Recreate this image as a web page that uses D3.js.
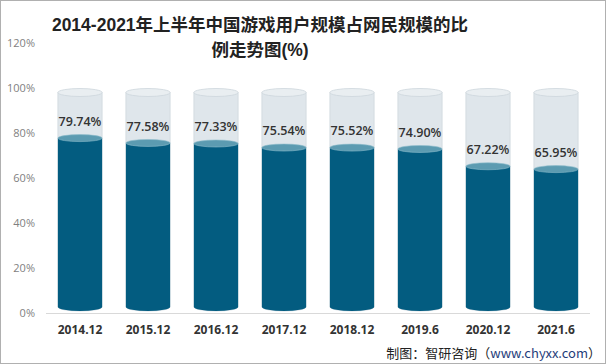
<!DOCTYPE html>
<html><head><meta charset="utf-8">
<script src="https://cdn.jsdelivr.net/npm/d3@7"></script>
<style>body{margin:0;background:#fff}svg{display:block}</style>
</head><body>
<script>
const categories = ["2014.12","2015.12","2016.12","2017.12","2018.12","2019.6","2020.12","2021.6"];
const values = [79.74,77.58,77.33,75.54,75.52,74.90,67.22,65.95];
const yTicks = [0,20,40,60,80,100,120];
const titleLines = ["2014-2021年上半年中国游戏用户规模占网民规模的比","例走势图(%)"];
const sourcePrefix = "制图：智研咨询（";
const sourceUrl = "www.chyxx.com";
const sourceSuffix = "）";

const W=606,H=364;
const svg=d3.select("body").append("svg").attr("width",W).attr("height",H);
svg.append("rect").attr("x",0.5).attr("y",0.5).attr("width",W-1).attr("height",H-1).attr("fill","#fff").attr("stroke","#b0b0b0");

const x=d3.scaleBand().domain(categories).range([46,590]).paddingInner(0.35).paddingOuter(0.175);
const y=d3.scaleLinear().domain([0,120]).range([313,43]);

// title
svg.append("g").selectAll("text").data(titleLines).join("text")
  .attr("x",260).attr("y",(d,i)=>31+i*25).attr("text-anchor","middle")
  .attr("font-family","'Liberation Sans','Noto Sans CJK SC',sans-serif").attr("font-weight","bold")
  .attr("font-size",17.5).attr("fill","#222").text(d=>d);

// y axis labels
const ya=d3.axisLeft(y).tickValues(yTicks).tickFormat(d=>d+"%").tickSize(0).tickPadding(0);
const gy=svg.append("g").attr("transform","translate(35,0)").call(ya);
gy.select(".domain").remove();
gy.selectAll("text").attr("font-family","'Open Sans',sans-serif").attr("font-size",11).attr("fill","#7f7f7f");

// axis line
svg.append("line").attr("x1",46).attr("x2",590).attr("y1",313.5).attr("y2",313.5).attr("stroke","#d9d9d9");

const bw=x.bandwidth(), ry=4, off=4.5;
const bottomY=y(0)-6;
const g=svg.append("g");
categories.forEach((c,i)=>{
  const cx=x(c)+bw/2, v=values[i];
  const topBg=y(100)+off, topV=y(v)+off;
  g.append("path").attr("d",`M${x(c)},${topBg} L${x(c)},${bottomY} A${bw/2},${ry} 0 0 0 ${x(c)+bw},${bottomY} L${x(c)+bw},${topBg} Z`)
    .attr("fill","#dfe6eb").attr("stroke","#cfd8de").attr("stroke-width",0.8);
  g.append("ellipse").attr("cx",cx).attr("cy",topBg).attr("rx",bw/2).attr("ry",ry)
    .attr("fill","#e9eef1").attr("stroke","#cdd6dc").attr("stroke-width",0.8);
  g.append("path").attr("d",`M${x(c)},${topV} L${x(c)},${bottomY} A${bw/2},${ry} 0 0 0 ${x(c)+bw},${bottomY} L${x(c)+bw},${topV} Z`)
    .attr("fill","#035c80");
  g.append("ellipse").attr("cx",cx).attr("cy",topV).attr("rx",bw/2).attr("ry",ry-0.5)
    .attr("fill","#5c9bb1").attr("stroke","#8dbccb").attr("stroke-width",0.6);
  g.append("text").attr("x",cx).attr("y",y(v)-12).attr("dy","0.35em").attr("text-anchor","middle")
    .attr("font-family","'Open Sans',sans-serif").attr("font-weight",600).attr("font-size",12.5).attr("fill","#333").text(v.toFixed(2)+"%");
});

// x labels
const xa=d3.axisBottom(x).tickSize(0).tickPadding(0);
const gx=svg.append("g").attr("transform","translate(0,325)").call(xa);
gx.select(".domain").remove();
gx.selectAll("text").attr("font-family","'Open Sans',sans-serif").attr("font-weight","bold").attr("font-size",12).attr("fill","#333");

const src=svg.append("text").attr("x",601).attr("y",358).attr("text-anchor","end")
  .attr("font-family","'Noto Sans CJK SC',sans-serif").attr("font-size",13).attr("fill","#222");
src.append("tspan").text(sourcePrefix);
src.append("tspan").attr("fill","#1f3d7a").text(sourceUrl);
src.append("tspan").text(sourceSuffix);
</script>
</body></html>
